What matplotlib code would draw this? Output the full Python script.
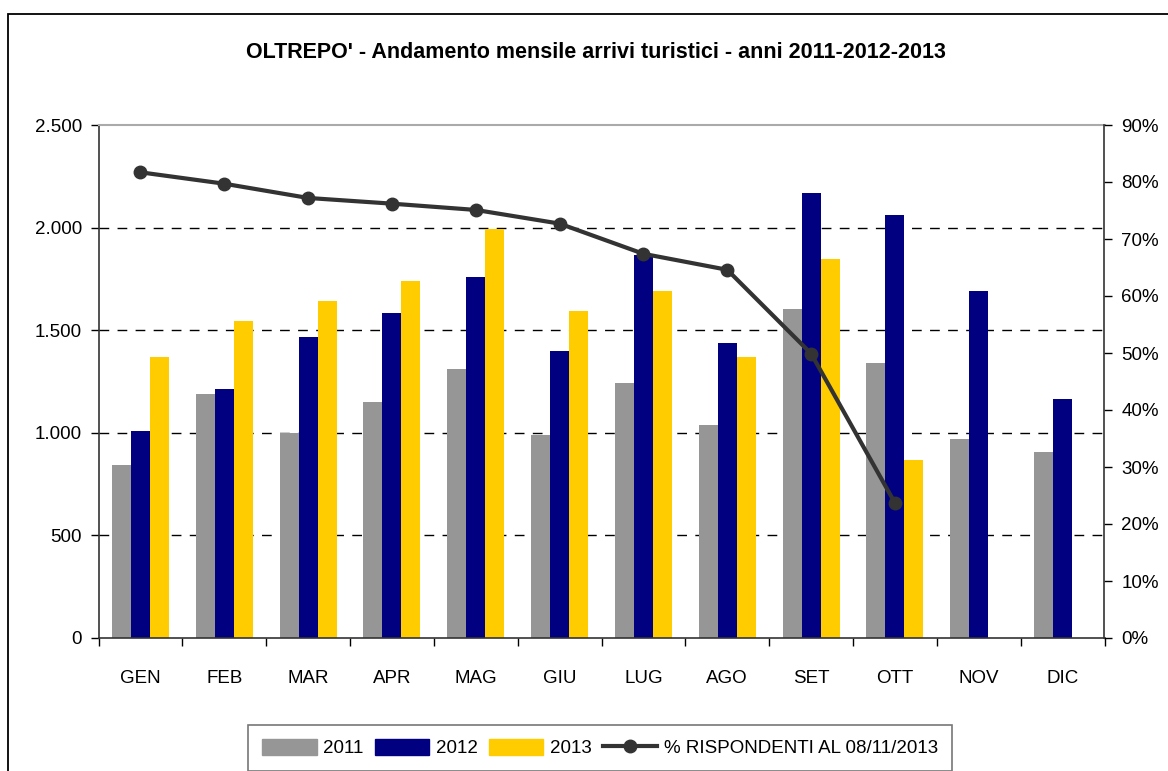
import numpy as np
import matplotlib
matplotlib.use("Agg")
import matplotlib.pyplot as plt
from matplotlib.ticker import FuncFormatter, MultipleLocator, FixedLocator
from matplotlib.patches import Rectangle
from matplotlib.lines import Line2D

plt.rcParams['font.family'] = ['Liberation Sans', 'DejaVu Sans']

# ------------------------------------------------------------
# dati
# ------------------------------------------------------------
mesi = ['GEN', 'FEB', 'MAR', 'APR', 'MAG', 'GIU', 'LUG', 'AGO', 'SET', 'OTT', 'NOV', 'DIC']
arrivi_2011 = [844, 1189, 1001, 1150, 1311, 991, 1242, 1038, 1602, 1340, 971, 908]
arrivi_2012 = [1010, 1214, 1467, 1584, 1758, 1398, 1865, 1437, 2167, 2060, 1690, 1165]
arrivi_2013 = [1370, 1544, 1641, 1738, 1991, 1592, 1690, 1370, 1845, 869, np.nan, np.nan]
pct_rispondenti = [81.7, 79.7, 77.2, 76.2, 75.1, 72.7, 67.4, 64.6, 49.9, 23.7]

titolo = "OLTREPO' - Andamento mensile arrivi turistici - anni 2011-2012-2013"
etichetta_linea = "% RISPONDENTI AL 08/11/2013"

c11, c12, c13, cline = '#969696', '#000080', '#FFCC00', '#333333'
fs = 13.5

# ------------------------------------------------------------
# figura
# ------------------------------------------------------------
fig = plt.figure(figsize=(11.68, 7.71), dpi=100)
W, H = 1168, 771
x0, x1, y0, y1 = 98.5, 1104.5, 125, 638
ax = fig.add_axes([x0 / W, 1 - y1 / H, (x1 - x0) / W, (y1 - y0) / H])

# cornice esterna (solo alto e sinistra visibili)
fig.add_artist(Rectangle((8 / W, -0.05), 1.1, 1 - 14 / H + 0.05, transform=fig.transFigure,
                         fill=False, edgecolor='black', lw=1.3))

x = np.arange(len(mesi))
bw = 0.226
ax.bar(x - bw, arrivi_2011, bw, color=c11, label='2011', zorder=2)
ax.bar(x, arrivi_2012, bw, color=c12, label='2012', zorder=2)
ax.bar(x + bw, arrivi_2013, bw, color=c13, label='2013', zorder=2)

ax.set_xlim(-0.5, len(mesi) - 0.5)
ax.set_ylim(0, 2500)
ax.yaxis.set_major_locator(MultipleLocator(500))
ax.yaxis.set_major_formatter(FuncFormatter(lambda v, p: f"{int(v):,}".replace(',', '.')))
for g in [500, 1000, 1500, 2000]:
    ax.axhline(g, color='black', lw=1, ls=(0, (7, 6)), zorder=1)

ax.set_xticks(x)
ax.set_xticklabels(mesi)
ax.xaxis.set_minor_locator(FixedLocator(np.arange(-0.5, len(mesi), 1)))
ax.tick_params(axis='x', which='major', length=0, pad=23, labelsize=fs)
ax.tick_params(axis='x', which='minor', length=6, width=1, direction='out')
ax.tick_params(axis='y', length=6, width=1, direction='out', pad=6, labelsize=fs)

for s in ['left', 'bottom']:
    ax.spines[s].set_color('#333333')
    ax.spines[s].set_linewidth(1.2)
ax.spines['top'].set_color('#aaaaaa')
ax.spines['top'].set_linewidth(1.5)
ax.spines['right'].set_visible(False)

ax2 = ax.twinx()
ax2.plot(x[:len(pct_rispondenti)], pct_rispondenti, color=cline, lw=3, marker='o',
         markersize=9, zorder=5, label=etichetta_linea)
ax2.set_ylim(0, 90)
ax2.yaxis.set_major_locator(MultipleLocator(10))
ax2.yaxis.set_major_formatter(FuncFormatter(lambda v, p: f"{int(round(v))}%"))
ax2.tick_params(axis='y', length=6, width=1, direction='out', pad=6, labelsize=fs)
ax2.spines['right'].set_color('#333333')
ax2.spines['right'].set_linewidth(1.2)
for s in ['top', 'left', 'bottom']:
    ax2.spines[s].set_visible(False)

fig.text(596 / W, 1 - 52 / H, titolo, ha='center', va='center',
         fontsize=15.5, fontweight='bold')

# legenda
handles = [Rectangle((0, 0), 1, 1, color=c11), Rectangle((0, 0), 1, 1, color=c12),
           Rectangle((0, 0), 1, 1, color=c13),
           Line2D([], [], color=cline, lw=3, marker='o', markersize=9)]
labels = ['2011', '2012', '2013', etichetta_linea]
leg = fig.legend(handles, labels, loc='center', bbox_to_anchor=(600 / W, 1 - 748 / H),
                 ncol=4, frameon=True, fancybox=False, fontsize=fs, handlelength=2.9,
                 handleheight=1.0, handletextpad=0.35, columnspacing=0.6,
                 borderpad=0.75)
leg.get_frame().set_edgecolor('#555555')
leg.get_frame().set_linewidth(1.2)

fig.savefig('out.png', dpi=100)
